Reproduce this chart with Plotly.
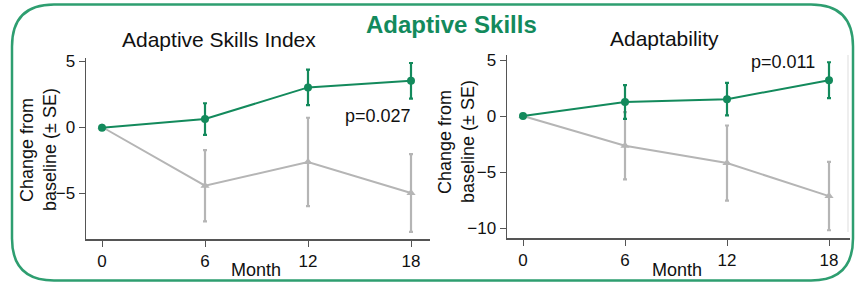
import plotly.graph_objects as go

W, H = 856, 287

months = [0, 6, 12, 18]
tick_labels = ["0", "6", "12", "18"]

# Adaptive Skills Index
asi_treat = [-0.05, 0.6, 3.0, 3.5]
asi_treat_se = [0, 1.2, 1.35, 1.35]
asi_ctrl = [0.0, -4.45, -2.65, -5.0]
asi_ctrl_se = [0, 2.7, 3.35, 2.95]

# Adaptability
ada_treat = [0.0, 1.25, 1.5, 3.2]
ada_treat_se = [0, 1.5, 1.45, 1.6]
ada_ctrl = [0.0, -2.65, -4.2, -7.15]
ada_ctrl_se = [0, 3.0, 3.35, 3.05]

GREEN = "#138a5c"
GRAY = "#b5b5b5"
AXC = "#555555"
FONT = "Liberation Sans, Arial, sans-serif"

def px_x(v):
    return v / W

def px_y(v):
    return 1 - v / H

fig = go.Figure()

def add_series(x, y, se, color, symbol, xa, ya):
    fig.add_trace(go.Scatter(
        x=x, y=y, mode="lines+markers", xaxis=xa, yaxis=ya,
        line=dict(color=color, width=2),
        marker=dict(color=color, symbol=symbol, size=8),
        error_y=dict(type="data", array=se, color=color, thickness=2.2, width=2),
        showlegend=False, cliponaxis=False, hoverinfo="skip",
    ))

add_series(months, asi_ctrl, asi_ctrl_se, GRAY, "triangle-up", "x", "y")
add_series(months, asi_treat, asi_treat_se, GREEN, "circle", "x", "y")
add_series(months, ada_ctrl, ada_ctrl_se, GRAY, "triangle-up", "x2", "y2")
add_series(months, ada_treat, ada_treat_se, GREEN, "circle", "x2", "y2")

axis_common = dict(
    showgrid=False, zeroline=False, showline=True, linecolor=AXC, linewidth=1.5,
    ticks="outside", ticklen=6, tickcolor=AXC, tickwidth=1,
    tickfont=dict(family=FONT, size=17, color="#111111"),
)

# Left panel: x 86..430, y 58..239
lx0, lx1 = 86, 430
ly0, ly1 = 58, 239
sx = (411 - 102) / 18
xr_l = [(lx0 - 102) / sx, (lx1 - 102) / sx]
sy = 66 / 5
yr_l = [-(ly1 - 127) / sy, (127 - ly0) / sy]

# Right panel: x 507..850, y 55..238
rx0, rx1 = 507, 850
ry0, ry1 = 55, 238
sx2 = (829 - 523) / 18
xr_r = [(rx0 - 523) / sx2, (rx1 - 523) / sx2]
sy2 = 56 / 5
yr_r = [-(ry1 - 116) / sy2, (116 - ry0) / sy2]

fig.update_layout(
    width=W, height=H,
    margin=dict(l=0, r=0, t=0, b=0, autoexpand=False),
    paper_bgcolor="white", plot_bgcolor="white",
    font=dict(family=FONT),
    xaxis=dict(domain=[px_x(lx0), px_x(lx1)], range=xr_l, tickvals=months, ticktext=tick_labels,
               anchor="y", **axis_common),
    yaxis=dict(domain=[px_y(ly1), px_y(ly0)], range=yr_l, tickvals=[-5, 0, 5],
               ticktext=["\u22125", "0", "5"], anchor="x", **axis_common),
    xaxis2=dict(domain=[px_x(rx0), px_x(rx1)], range=xr_r, tickvals=months, ticktext=tick_labels,
                anchor="y2", **axis_common),
    yaxis2=dict(domain=[px_y(ry1), px_y(ry0)], range=yr_r, tickvals=[-10, -5, 0, 5],
                ticktext=["\u221210", "\u22125", "0", "5"], anchor="x2", **axis_common),
)

# Rounded border
x0b, y0b, x1b, y1b, r = 12, 4.5, 853, 280.5, 42
def P(x, y):
    return f"{x / W:.5f},{1 - y / H:.5f}"
path = (f"M {P(x0b + r, y0b)} L {P(x1b - r, y0b)} "
        f"Q {P(x1b, y0b)} {P(x1b, y0b + r)} L {P(x1b, y1b - r)} "
        f"Q {P(x1b, y1b)} {P(x1b - r, y1b)} L {P(x0b + r, y1b)} "
        f"Q {P(x0b, y1b)} {P(x0b, y1b - r)} L {P(x0b, y0b + r)} "
        f"Q {P(x0b, y0b)} {P(x0b + r, y0b)} Z")
fig.add_shape(type="path", path=path, xref="paper", yref="paper",
              line=dict(color="#2e9e70", width=2.5), layer="below")

# faint right line in right panel
fig.add_shape(type="line", xref="paper", yref="paper",
              x0=px_x(848), x1=px_x(848), y0=px_y(232), y1=px_y(55),
              line=dict(color="#dddddd", width=1))

def ann(text, x, y, size, color="#111111", bold=False, angle=0):
    fig.add_annotation(text=f"<b>{text}</b>" if bold else text, x=px_x(x), y=px_y(y),
                       xref="paper", yref="paper", showarrow=False,
                       xanchor="center", yanchor="middle", textangle=angle,
                       font=dict(family=FONT, size=size, color=color))

ann("Adaptive Skills", 451, 25, 24, GREEN, bold=True)
ann("Adaptive Skills Index", 219, 39, 21)
ann("Adaptability", 664, 38, 21)
ann("p=0.027", 378, 116, 18)
ann("p=0.011", 783, 62, 18)
ann("Month", 256, 270, 18)
ann("Month", 677, 270, 18)
ann("Change from", 27, 150, 18, angle=-90)
ann("baseline (\u00b1 SE)", 50, 150, 18, angle=-90)
ann("Change from", 445, 142, 18, angle=-90)
ann("baseline (\u00b1 SE)", 468, 142, 18, angle=-90)

fig.write_html("out.html", config={"displayModeBar": False, "staticPlot": True},
               post_script="document.body.style.margin='0px';document.body.style.overflow='hidden';")
